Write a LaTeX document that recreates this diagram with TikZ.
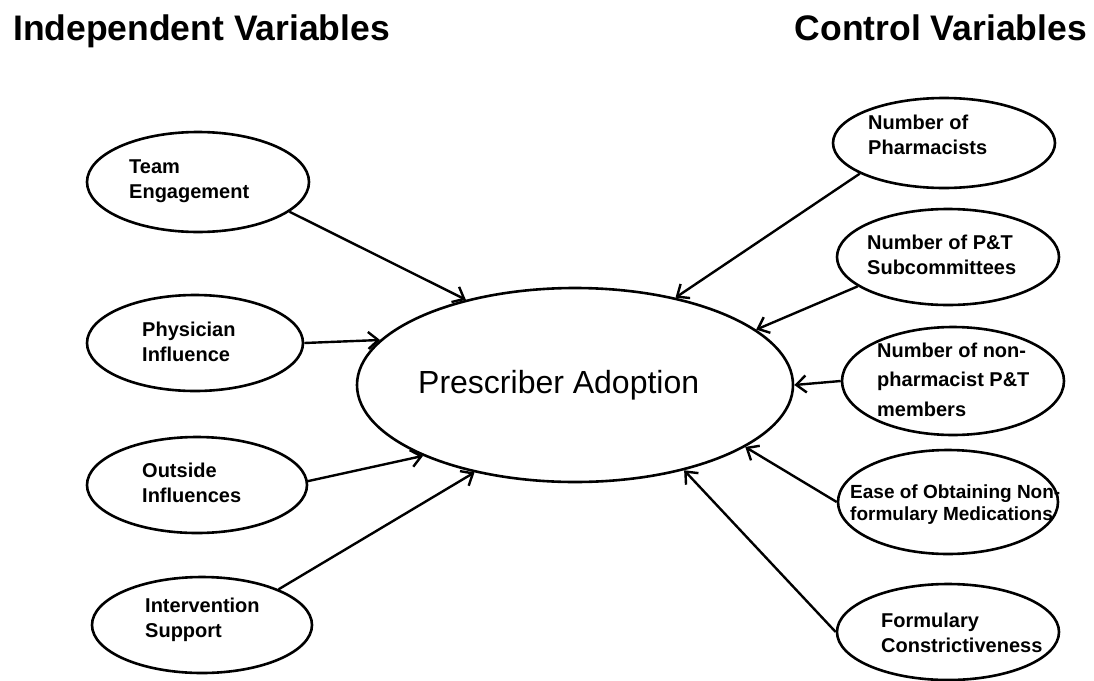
\documentclass[tikz,border=0pt]{standalone}
\usepackage{fontspec}
\setmainfont{Liberation Sans}
\usetikzlibrary{arrows.meta,shapes.geometric}
\tikzset{
  ell/.style={draw, ellipse, line width=2.6pt, inner sep=0pt},
  lbl/.style={anchor=west, align=left, inner sep=0pt, font=\bfseries\fontsize{20}{25}\selectfont},
  ttl/.style={inner sep=0pt, font=\bfseries\fontsize{35.5}{40}\selectfont},
  arr/.style={line width=2.4pt, -{Straight Barb[length=10pt,width=17pt,line width=2.4pt]}},
}
\begin{document}
\begin{tikzpicture}[x=1pt,y=-1pt]
\useasboundingbox (0,0) rectangle (1094,680);
% titles
\node[ttl, anchor=base west] (t1) at (13,40) {Independent Variables};
\node[ttl, anchor=base east] (t2) at (1087,40) {Control Variables};
% central
\node[ell, minimum width=436pt, minimum height=194pt] (pa) at (575,385) {};
\node[anchor=base west, inner sep=0pt, font=\fontsize{32}{38}\selectfont] (pat) at (418,393) {Prescriber Adoption};
% left ellipses
\node[ell, minimum width=222pt, minimum height=100pt] (te) at (198,182) {};
\node[lbl] (tet) at (129,181.5) {Team\\Engagement};
\node[ell, minimum width=216pt, minimum height=96pt] (pi) at (195,343) {};
\node[lbl] (pit) at (142,341.5) {Physician\\Influence};
\node[ell, minimum width=220pt, minimum height=96pt] (oi) at (197,485) {};
\node[lbl] (oit) at (142,482.5) {Outside\\Influences};
\node[ell, minimum width=220pt, minimum height=96pt] (is) at (202,625) {};
\node[lbl] (ist) at (145,619.5) {Intervention\\Support};
% right ellipses
\node[ell, minimum width=222pt, minimum height=90pt] (np) at (944,143) {};
\node[lbl] (npt) at (868,134.5) {Number of\\Pharmacists};
\node[ell, minimum width=222pt, minimum height=96pt] (ns) at (948,257) {};
\node[lbl] (nst) at (867,254.5) {Number of P\&T\\Subcommittees};
\node[ell, minimum width=222pt, minimum height=108pt] (nn) at (953,381) {};
\node[lbl, font=\bfseries\fontsize{20}{29.5}\selectfont] (nnt) at (877,379.5) {Number of non-\\pharmacist P\&T\\members};
\node[ell, minimum width=220pt, minimum height=104pt] (eo) at (948,502) {};
\node[lbl, font=\bfseries\fontsize{19}{22}\selectfont] (eot) at (850,505) {Ease of Obtaining Non-\\formulary Medications};
\node[ell, minimum width=222pt, minimum height=96pt] (fc) at (948,632) {};
\node[lbl] (fct) at (881,633) {Formulary\\Constrictiveness};
% arrows
\draw[arr] (te.-18) -- (pa.142.8);
\draw[arr] (pi.0) -- (pa.167);
\draw[arr] (oi.2) -- (pa.205.2);
\draw[arr] (is.25) -- (pa.221);
\draw[arr] (np.200) -- (pa.41.3);
\draw[arr] (ns.198) -- (pa.17.2);
\draw[arr] (nn.180) -- (pa.0);
\draw[arr] (eo.180) -- (pa.-20.6);
\draw[arr] (fc.180) -- (pa.-38.5);
\end{tikzpicture}
\end{document}
